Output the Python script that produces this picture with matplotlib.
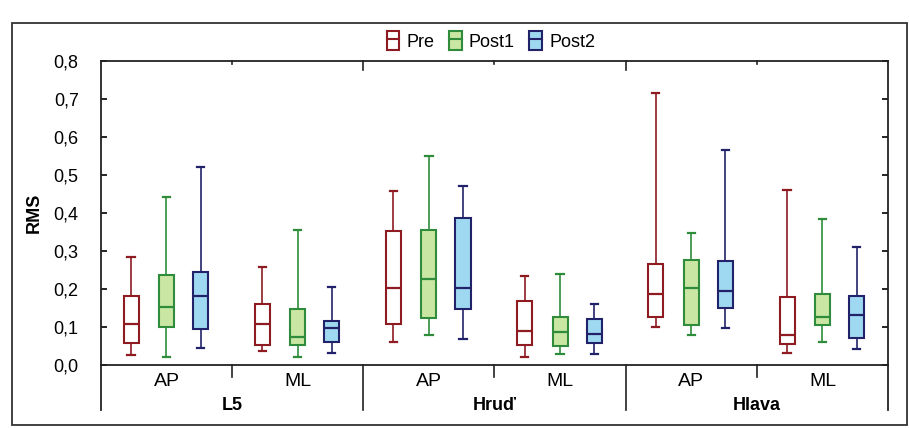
import matplotlib.pyplot as plt
from matplotlib.patches import Rectangle
from matplotlib.lines import Line2D
from matplotlib.legend_handler import HandlerTuple
import matplotlib.transforms as mtransforms

plt.rcParams['font.family'] = ['Liberation Sans', 'DejaVu Sans']

# subgroups in order: L5 AP, L5 ML, Hrud AP, Hrud ML, Hlava AP, Hlava ML
groups = ['L5', 'Hruď', 'Hlava']
subgroups = ['AP', 'ML']
series = ['Pre', 'Post1', 'Post2']

# each entry: (whisker low, Q1, median, Q3, whisker high)
pre = [(0.026, 0.058, 0.107, 0.180, 0.284),
       (0.036, 0.051, 0.107, 0.161, 0.257),
       (0.060, 0.108, 0.201, 0.353, 0.458),
       (0.020, 0.052, 0.088, 0.168, 0.233),
       (0.100, 0.126, 0.187, 0.265, 0.715),
       (0.032, 0.054, 0.077, 0.179, 0.461)]
post1 = [(0.021, 0.098, 0.151, 0.237, 0.441),
         (0.020, 0.053, 0.073, 0.146, 0.354),
         (0.077, 0.124, 0.226, 0.355, 0.550),
         (0.029, 0.048, 0.085, 0.125, 0.239),
         (0.077, 0.104, 0.201, 0.276, 0.347),
         (0.060, 0.105, 0.126, 0.185, 0.384)]
post2 = [(0.044, 0.094, 0.180, 0.244, 0.520),
         (0.032, 0.060, 0.097, 0.116, 0.205),
         (0.068, 0.146, 0.202, 0.387, 0.471),
         (0.029, 0.058, 0.082, 0.119, 0.161),
         (0.097, 0.149, 0.195, 0.272, 0.565),
         (0.040, 0.069, 0.131, 0.181, 0.311)]

yticks = [0.0, 0.1, 0.2, 0.3, 0.4, 0.5, 0.6, 0.7, 0.8]

edge_colors = ['#8e1b22', '#2e8c3b', '#22226a']
fill_colors = ['#ffffff', '#c9e6a3', '#9fd9f1']
offsets = [-0.27, 0.0, 0.26]

fig = plt.figure(figsize=(9.09, 4.28), dpi=100)
ax = fig.add_axes([0.111, 0.148, 0.866, 0.71])

for k, data in enumerate([pre, post1, post2]):
    stats = []
    for lo, q1, med, q3, hi in data:
        stats.append({'whislo': lo, 'q1': q1, 'med': med, 'q3': q3, 'whishi': hi, 'fliers': []})
    pos = [i + 0.5 + offsets[k] for i in range(len(data))]
    c = edge_colors[k]
    ax.bxp(stats, positions=pos, widths=0.115, patch_artist=True, showfliers=False,
           capwidths=0.055,
           boxprops=dict(facecolor=fill_colors[k], edgecolor=c, linewidth=1.5),
           medianprops=dict(color=c, linewidth=1.6),
           whiskerprops=dict(color=c, linewidth=1.2),
           capprops=dict(color=c, linewidth=1.6))

ax.set_xlim(0, 6)
ax.set_ylim(0, 0.8)
ax.set_yticks(yticks)
ax.set_yticklabels([('%.1f' % v).replace('.', ',') for v in yticks], fontsize=13)
ax.tick_params(axis='y', direction='in', length=4, width=1.2, pad=16, right=True)
ax.set_ylabel('RMS', fontsize=13, fontweight='bold', labelpad=8)
ax.set_xticks([])
for s in ax.spines.values():
    s.set_linewidth(1.3)
    s.set_color('#222222')

# category table below the axis and ticks on top
tr = mtransforms.blended_transform_factory(ax.transData, ax.transAxes)
for x in [1, 3, 5]:
    ax.plot([x, x], [0, -0.04], transform=tr, color='#222222', lw=1.2, clip_on=False)
    ax.plot([x, x], [1, 0.99], transform=tr, color='#222222', lw=1.2, clip_on=False)
for x in [2, 4]:
    ax.plot([x, x], [0, -0.15], transform=tr, color='#222222', lw=1.2, clip_on=False)
    ax.plot([x, x], [1, 0.97], transform=tr, color='#222222', lw=1.2, clip_on=False)
for x in [0, 6]:
    ax.plot([x, x], [0, -0.15], transform=tr, color='#222222', lw=1.3, clip_on=False)

for i in range(6):
    ax.text(i + 0.5, -0.055, subgroups[i % 2], transform=tr, ha='center', va='center', fontsize=14)
for j, g in enumerate(groups):
    ax.text(2 * j + 1, -0.135, g, transform=tr, ha='center', va='center', fontsize=13,
            fontweight='bold')

# legend with box-like handles
handles = []
for k in range(3):
    r = Rectangle((0, 0), 1, 1, facecolor=fill_colors[k], edgecolor=edge_colors[k], linewidth=1.5)
    ln = Line2D([0], [0], color=edge_colors[k], linewidth=1.5)
    handles.append((r, ln))
fig.legend(handles, series, loc='center', bbox_to_anchor=(0.54, 0.905), ncol=3, frameon=False,
           fontsize=13, handlelength=0.7, handleheight=1.3, handletextpad=0.4, columnspacing=0.8,
           handler_map={tuple: HandlerTuple(ndivide=1)})

# outer frame
fig.patches.append(Rectangle((12 / 909, 3 / 428), 895 / 909, 402 / 428, transform=fig.transFigure,
                             fill=False, edgecolor='#333333', linewidth=1.3))

fig.savefig('out.png', dpi=100)
